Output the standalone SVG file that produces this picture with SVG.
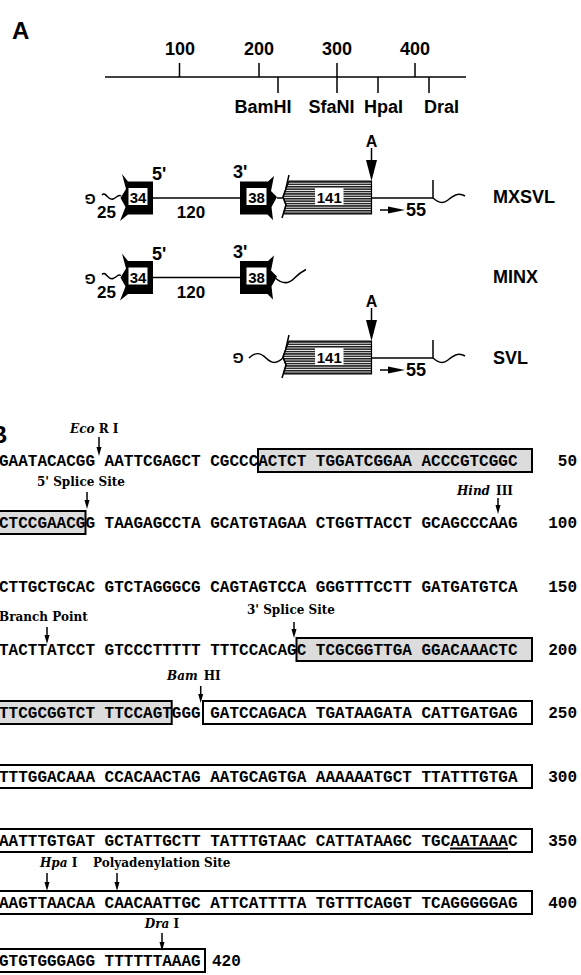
<svg xmlns="http://www.w3.org/2000/svg" xmlns:xlink="http://www.w3.org/1999/xlink" width="581" height="975" viewBox="0 0 581 975">
<style>
.sans{font-family:"Liberation Sans",Arial,sans-serif;font-weight:bold;fill:#000}
.seq{font-family:"Liberation Mono","Courier New",monospace;font-weight:bold;font-size:16px;fill:#000}
.lab{font-family:"DejaVu Serif","Liberation Serif",serif;font-weight:bold;font-size:12px;fill:#000}
.it{font-style:italic}
.ln{fill:none;stroke:#000;stroke-width:1.5}
.sh{fill:#dcdcdc;stroke:#000;stroke-width:2}
.wb{fill:none;stroke:#000;stroke-width:2}
.wr{fill:#fff}
</style>
<defs>
<pattern id="hatch" width="4" height="2.4" patternUnits="userSpaceOnUse">
<rect width="4" height="2.4" fill="#fff"/>
<rect width="4" height="1.5" fill="#1a1a1a"/>
</pattern>
<g id="box34">
<path d="M153,-16.5 L128,-16.5 L122,-24 L126,-9 L120.5,0 L125.5,9 L120,23 L128,16.5 L153,16.5 Z" fill="#000"/>
<rect x="128.5" y="-10" width="19" height="17" class="wr"/>
</g>
<g id="box38">
<path d="M240,-16.5 L268,-16.5 L274,-22 L271,-7 L277,-1 L271.5,9 L273,22 L267.5,16.5 L240,16.5 Z" fill="#000"/>
<rect x="246.5" y="-10" width="20" height="17" class="wr"/>
</g>
<g id="box141">
<path d="M371.5,-17 L289,-17 L285.5,-8 L283,-1 L286,7 L283.5,16 L371.5,16 Z" fill="url(#hatch)" stroke="#000" stroke-width="1.2"/>
<path d="M289,-23 L285.5,-8 L283,-1 L286,7 L282,20" class="ln"/>
<rect x="315" y="-10" width="28.5" height="17" class="wr"/>
</g>
<g id="tail">
<path d="M371.5,0 L433,0 M433,0 L433,-18" class="ln"/>
<path d="M433,0 C439,5 443,6 448,2 S458,-6 465,-2" class="ln"/>
<path d="M380,12 L391,12" class="ln"/>
<polygon points="388,8.5 405,12 388,15.5"/>
<path d="M371.5,-50 L371.5,-36" class="ln"/>
<polygon points="366,-38 377,-38 371.5,-17"/>
</g>
</defs>

<!-- Panel A: scale -->
<g id="panelA-label"><text class="sans" x="12" y="39" font-size="24">A</text></g>
<g id="scale">
<path d="M105,77 L466,77" class="ln"/>
<path d="M179.5,63 L179.5,77 M259,63 L259,77 M337,63 L337,93 M415,63 L415,77 M278,77 L278,93 M378,77 L378,93 M429,77 L429,93" class="ln"/>
<g class="sans" font-size="18" text-anchor="middle">
<text x="180" y="55">100</text>
<text x="259" y="55">200</text>
<text x="337" y="55">300</text>
<text x="415" y="55">400</text>
<text x="263" y="113">BamHI</text>
<text x="331.5" y="113">SfaNI</text>
<text x="383.5" y="113">HpaI</text>
<text x="441.5" y="113">DraI</text>
</g>
</g>

<!-- MXSVL -->
<g id="MXSVL" transform="translate(0,198)">
<text class="sans" font-size="14" text-anchor="middle" transform="translate(90,1) rotate(180)" y="5">G</text>
<path d="M102,-3 C106,-7 108,3 113,1 S118,-4 121,-2" class="ln"/>
<text class="sans" font-size="17" x="97" y="20">25</text>
<use xlink:href="#box34"/>
<text class="sans" font-size="15" x="138" y="5" text-anchor="middle">34</text>
<text class="sans" font-size="18" x="152" y="-18">5'</text>
<path d="M153,0 L240,0" class="ln"/>
<text class="sans" font-size="17" x="191" y="20" text-anchor="middle">120</text>
<text class="sans" font-size="18" x="233" y="-20">3'</text>
<use xlink:href="#box38"/>
<text class="sans" font-size="15" x="256.5" y="5" text-anchor="middle">38</text>
<path d="M277,0 L284,0" class="ln"/>
<use xlink:href="#box141"/>
<text class="sans" font-size="15" x="329.25" y="5" text-anchor="middle">141</text>
<use xlink:href="#tail"/>
<text class="sans" font-size="16" x="371.5" y="-51" text-anchor="middle">A</text>
<text class="sans" font-size="18" x="406" y="18">55</text>
<text class="sans" font-size="18" x="493" y="5">MXSVL</text>
</g>

<!-- MINX -->
<g id="MINX" transform="translate(0,277.5)">
<text class="sans" font-size="14" text-anchor="middle" transform="translate(90,1) rotate(180)" y="5">G</text>
<path d="M102,-3 C106,-7 108,3 113,1 S118,-4 121,-2" class="ln"/>
<text class="sans" font-size="17" x="97" y="20">25</text>
<use xlink:href="#box34"/>
<text class="sans" font-size="15" x="138" y="5" text-anchor="middle">34</text>
<text class="sans" font-size="18" x="152" y="-18">5'</text>
<path d="M153,0 L240,0" class="ln"/>
<text class="sans" font-size="17" x="191" y="20" text-anchor="middle">120</text>
<text class="sans" font-size="18" x="233" y="-20">3'</text>
<use xlink:href="#box38"/>
<text class="sans" font-size="15" x="256.5" y="5" text-anchor="middle">38</text>
<path d="M276,1 C283,7 289,6 294,1 S302,-6 306,-8" class="ln"/>
<text class="sans" font-size="18" x="493" y="5">MINX</text>
</g>

<!-- SVL -->
<g id="SVL" transform="translate(0,358)">
<text class="sans" font-size="14" text-anchor="middle" transform="translate(238,0) rotate(180)" y="5">G</text>
<path d="M249,0 C255,-6 260,-6 266,0 S277,6 284,-1" class="ln"/>
<use xlink:href="#box141"/>
<text class="sans" font-size="15" x="329.25" y="5" text-anchor="middle">141</text>
<use xlink:href="#tail"/>
<text class="sans" font-size="16" x="371.5" y="-51" text-anchor="middle">A</text>
<text class="sans" font-size="18" x="406" y="18">55</text>
<text class="sans" font-size="18" x="493" y="6">SVL</text>
</g>

<!-- Panel B -->
<g id="panelB-label"><text class="sans" x="-10" y="443" font-size="24">B</text></g>

<g id="row1">
<rect class="sh" x="258" y="449" width="274" height="23"/>
<text class="seq" x="-1" y="466">GAATACACGG AATTCGAGCT CGCCCACTCT TGGATCGGAA ACCCGTCGGC</text>
<text class="seq" x="577" y="466" text-anchor="end">50</text>
<text class="lab" x="70" y="433"><tspan class="it">Eco</tspan> R I</text>
</g>
<g id="row2">
<rect class="sh" x="-5" y="511" width="90.5" height="23"/>
<text class="seq" x="-1" y="528">CTCCGAACGG TAAGAGCCTA GCATGTAGAA CTGGTTACCT GCAGCCCAAG</text>
<text class="seq" x="577" y="528" text-anchor="end">100</text>
<text class="lab" x="37" y="486">5' Splice Site</text>
<text class="lab" x="457" y="495"><tspan class="it">Hind</tspan><tspan dx="6">III</tspan></text>
</g>
<g id="row3">
<text class="seq" x="-1" y="592">CTTGCTGCAC GTCTAGGGCG CAGTAGTCCA GGGTTTCCTT GATGATGTCA</text>
<text class="seq" x="577" y="592" text-anchor="end">150</text>
</g>
<g id="row4">
<rect class="sh" x="296.5" y="638" width="235.5" height="23"/>
<text class="seq" x="-1" y="655">TACTTATCCT GTCCCTTTTT TTTCCACAGC TCGCGGTTGA GGACAAACTC</text>
<text class="seq" x="577" y="655" text-anchor="end">200</text>
<text class="lab" x="-1" y="621">Branch Point</text>
<text class="lab" x="247" y="614">3' Splice Site</text>
</g>
<g id="row5">
<rect class="sh" x="-5" y="701" width="176.7" height="23"/>
<rect class="wb" x="203" y="701" width="329" height="23"/>
<text class="seq" x="-1" y="718">TTCGCGGTCT TTCCAGTGGG GATCCAGACA TGATAAGATA CATTGATGAG</text>
<text class="seq" x="577" y="718" text-anchor="end">250</text>
<text class="lab" x="167" y="680"><tspan class="it">Bam</tspan><tspan dx="6">HI</tspan></text>
</g>
<g id="row6">
<rect class="wb" x="-5" y="765" width="537" height="23"/>
<text class="seq" x="-1" y="782">TTTGGACAAA CCACAACTAG AATGCAGTGA AAAAAATGCT TTATTTGTGA</text>
<text class="seq" x="577" y="782" text-anchor="end">300</text>
</g>
<g id="row7">
<rect class="wb" x="-5" y="829" width="537" height="23"/>
<text class="seq" x="-1" y="846">AATTTGTGAT GCTATTGCTT TATTTGTAAC CATTATAAGC TGCAATAAAC</text>
<text class="seq" x="577" y="846" text-anchor="end">350</text>
<path d="M450,848.5 L508,848.5" stroke="#000" stroke-width="2"/>
</g>
<g id="row8">
<rect class="wb" x="-5" y="891" width="537" height="23"/>
<text class="seq" x="-1" y="908">AAGTTAACAA CAACAATTGC ATTCATTTTA TGTTTCAGGT TCAGGGGGAG</text>
<text class="seq" x="577" y="908" text-anchor="end">400</text>
<text class="lab" x="40" y="867"><tspan class="it">Hpa</tspan> I</text>
<text class="lab" x="93" y="867">Polyadenylation Site</text>
</g>
<g id="row9">
<rect class="wb" x="-5" y="949" width="210" height="23"/>
<text class="seq" x="-1" y="966">GTGTGGGAGG TTTTTTAAAG</text>
<text class="seq" x="212" y="966">420</text>
<text class="lab" x="162" y="928" text-anchor="middle"><tspan class="it">Dra</tspan> I</text>
</g>

<g id="connectors">
<path d="M99,437 L99,448 M87,492 L87,501 M498,498 L498,506 M47,627 L47,636 M294,622 L294,630 M200.7,686 L200.7,695 M47,873 L47,883 M117,873 L117,883 M162,933 L162,943" stroke="#000" stroke-width="1.5"/>
<polygon points="96.5,447 101.5,447 99,456"/>
<polygon points="84.5,500 89.5,500 87,509"/>
<polygon points="495.5,505 500.5,505 498,514"/>
<polygon points="44.5,635 49.5,635 47,644"/>
<polygon points="291.5,629 296.5,629 294,638"/>
<polygon points="198.2,694 203.2,694 200.7,703"/>
<polygon points="44.5,882 49.5,882 47,891"/>
<polygon points="114.5,882 119.5,882 117,891"/>
<polygon points="159.5,942 164.5,942 162,951"/>
</g>
</svg>
